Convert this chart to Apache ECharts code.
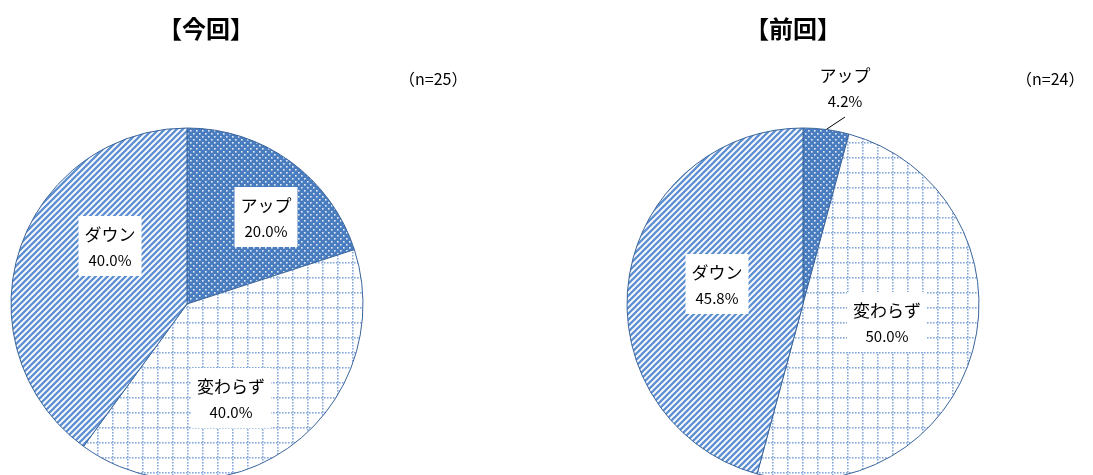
<!DOCTYPE html>
<html>
<head>
<meta charset="utf-8">
<script src="https://cdn.jsdelivr.net/npm/echarts@6/dist/echarts.min.js"></script>
<style>
  html, body { margin: 0; padding: 0; background: #fff; }
  #chart { width: 1093px; height: 475px; }
</style>
</head>
<body>
<div id="chart"></div>
<script>
// data
const categories = ["アップ", "変わらず", "ダウン"];
const currentValues = [20.0, 40.0, 40.0];   // 今回 n=25
const previousValues = [4.2, 50.0, 45.8];   // 前回 n=24
const titles = ["【今回】", "【前回】"];
const sampleNotes = ["（n=25）", "（n=24）"];

// label anchor points (centre of each label box), per chart
const labelSpots = [
  [[266, 217], [231, 398], [110, 246]],
  [[845, 87], [887, 322], [717, 284]]
];

function makeTile(w, h, draw) {
  const c = document.createElement("canvas");
  c.width = w; c.height = h;
  draw(c.getContext("2d"));
  return { image: c, repeat: "repeat" };
}

// white dots on blue
const dotFill = makeTile(6, 6, (g) => {
  g.fillStyle = "#4a7cc0";
  g.fillRect(0, 0, 6, 6);
  g.fillStyle = "#e6eef8";
  g.fillRect(1, 1, 1.6, 1.6);
  g.fillRect(4, 4, 1.6, 1.6);
});

// dotted grid on white
const gridFill = makeTile(15, 15, (g) => {
  g.fillStyle = "#ffffff";
  g.fillRect(0, 0, 15, 15);
  g.fillStyle = "#86a9dc";
  for (let i = 0; i < 15; i += 3) {
    g.fillRect(i, 7, 1.6, 1.6);
    g.fillRect(7, i, 1.6, 1.6);
  }
});

// diagonal stripes
const stripeFill = makeTile(6, 6, (g) => {
  g.fillStyle = "#ffffff";
  g.fillRect(0, 0, 6, 6);
  g.strokeStyle = "#5f90d2";
  g.lineWidth = 2.3;
  g.beginPath();
  g.moveTo(-1, 7); g.lineTo(7, -1);
  g.moveTo(-1, 1); g.lineTo(1, -1);
  g.moveTo(5, 7); g.lineTo(7, 5);
  g.stroke();
});

const fills = [dotFill, gridFill, stripeFill];

function buildData(values, outsideFirst) {
  return categories.map((name, i) => {
    const item = {
      name: name,
      value: values[i],
      itemStyle: { color: fills[i] }
    };
    if (outsideFirst && i === 0) {
      item.label = { position: "outside", backgroundColor: "transparent" };
      item.labelLine = { show: true, length: 14, length2: 0, lineStyle: { color: "#000", width: 1 } };
    }
    return item;
  });
}

function pieSeries(values, center, idx, outsideFirst) {
  return {
    type: "pie",
    center: center,
    radius: 176,
    startAngle: 90,
    clockwise: true,
    avoidLabelOverlap: false,
    silent: true,
    animation: false,
    itemStyle: { borderColor: "#3a659c", borderWidth: 1 },
    label: {
      show: true,
      position: "inside",
      backgroundColor: "#ffffff",
      padding: [5, 6, 4, 6],
      formatter: (p) => "{n|" + p.name + "}\n{p|" + p.value.toFixed(1) + "%}",
      rich: {
        n: { fontFamily: "Noto Sans CJK JP", fontSize: 17, color: "#000", lineHeight: 27, align: "center" },
        p: { fontFamily: "Noto Sans CJK JP", fontSize: 15, color: "#000", lineHeight: 24, align: "center" }
      }
    },
    labelLine: { show: false },
    labelLayout: (params) => {
      const s = labelSpots[idx][params.dataIndex];
      return { x: s[0], y: s[1], align: "center", verticalAlign: "middle" };
    },
    data: buildData(values, outsideFirst)
  };
}

const chart = echarts.init(document.getElementById("chart"), null, { renderer: "canvas" });
chart.setOption({
  backgroundColor: "#ffffff",
  title: [
    { text: titles[0], left: 201, top: 12, textAlign: "center",
      textStyle: { fontFamily: "Noto Sans CJK JP", fontSize: 24, fontWeight: "bold", color: "#000" } },
    { text: titles[1], left: 788, top: 12, textAlign: "center",
      textStyle: { fontFamily: "Noto Sans CJK JP", fontSize: 24, fontWeight: "bold", color: "#000" } },
    { text: sampleNotes[0], left: 394, top: 66,
      textStyle: { fontFamily: "Noto Sans CJK JP", fontSize: 16, fontWeight: "normal", color: "#000" } },
    { text: sampleNotes[1], left: 1011, top: 66,
      textStyle: { fontFamily: "Noto Sans CJK JP", fontSize: 16, fontWeight: "normal", color: "#000" } }
  ],
  series: [
    pieSeries(currentValues, [187, 304], 0, false),
    pieSeries(previousValues, [803, 304], 1, true)
  ]
});
</script>
</body>
</html>
